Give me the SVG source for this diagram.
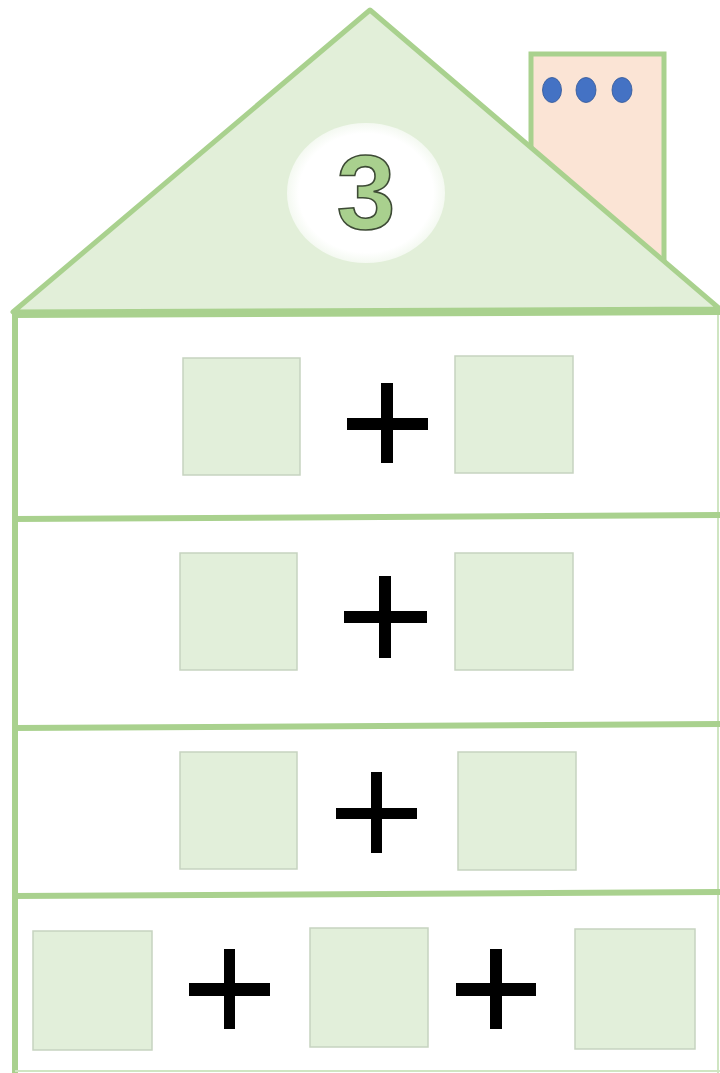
<svg xmlns="http://www.w3.org/2000/svg" width="720" height="1073" viewBox="0 0 720 1073">
<defs>
<style>
.wall{stroke:#a9d18e;stroke-width:6;fill:none;stroke-linecap:square}
.box{fill:#e2efda;stroke:#c6d3c0;stroke-width:1.5}
.plus{fill:#000}
.dot{fill:#4472c4;stroke:#2f5597;stroke-width:0.8}
</style>
<radialGradient id="glow" cx="50%" cy="50%" r="50%">
<stop offset="0.85" stop-color="#ffffff"/>
<stop offset="1" stop-color="#f4f9f1"/>
</radialGradient>
</defs>
<rect width="720" height="1073" fill="#ffffff"/>
<g id="chimney">
<rect x="531" y="54" width="133" height="210" fill="#fbe4d5" stroke="#a9d18e" stroke-width="5"/>
<ellipse class="dot" cx="552" cy="90" rx="9.5" ry="12.5"/>
<ellipse class="dot" cx="586" cy="90" rx="10" ry="12.5"/>
<ellipse class="dot" cx="622" cy="90" rx="10" ry="12.5"/>
</g>
<g id="roof">
<polygon points="370,10 13,312 720,309" fill="#e2efd9" stroke="#a9d18e" stroke-width="5" stroke-linejoin="round"/>
<ellipse cx="366" cy="193" rx="79" ry="70" fill="url(#glow)"/>
<text x="366" y="229" text-anchor="middle" font-family="'Liberation Sans', Arial, sans-serif" font-weight="bold" font-size="106" fill="#a9d08e" stroke="#3d4a35" stroke-width="1.6">3</text>
</g>
<g id="walls">
<line class="wall" x1="15" y1="314" x2="15" y2="1073"/>
<line x1="718" y1="312" x2="718" y2="1073" stroke="#cfe5c2" stroke-width="2"/>
<line class="wall" x1="15" y1="315" x2="718" y2="312" stroke-width="7"/>
<line class="wall" x1="15" y1="519" x2="718" y2="515"/>
<line class="wall" x1="15" y1="728" x2="718" y2="724"/>
<line class="wall" x1="15" y1="896" x2="718" y2="892"/>
<line x1="15" y1="1071" x2="720" y2="1071" stroke="#cfe5c2" stroke-width="2"/>
</g>
<g id="row1">
<rect class="box" x="183" y="358" width="117" height="117"/>
<rect class="box" x="455" y="356" width="118" height="117"/>
<rect class="plus" x="381" y="383" width="12" height="80"/>
<rect class="plus" x="347" y="418" width="81" height="12"/>
</g>
<g id="row2">
<rect class="box" x="180" y="553" width="117" height="117"/>
<rect class="box" x="455" y="553" width="118" height="117"/>
<rect class="plus" x="379" y="576" width="12" height="82"/>
<rect class="plus" x="344" y="611" width="83" height="12"/>
</g>
<g id="row3">
<rect class="box" x="180" y="752" width="117" height="117"/>
<rect class="box" x="458" y="752" width="118" height="118"/>
<rect class="plus" x="371" y="772" width="11" height="81"/>
<rect class="plus" x="336" y="808" width="81" height="11"/>
</g>
<g id="row4">
<rect class="box" x="33" y="931" width="119" height="119"/>
<rect class="box" x="310" y="928" width="118" height="119"/>
<rect class="box" x="575" y="929" width="120" height="120"/>
<rect class="plus" x="224" y="949" width="11" height="80"/>
<rect class="plus" x="189" y="983" width="81" height="13"/>
<rect class="plus" x="490" y="949" width="12" height="80"/>
<rect class="plus" x="456" y="983" width="80" height="13"/>
</g>
</svg>
